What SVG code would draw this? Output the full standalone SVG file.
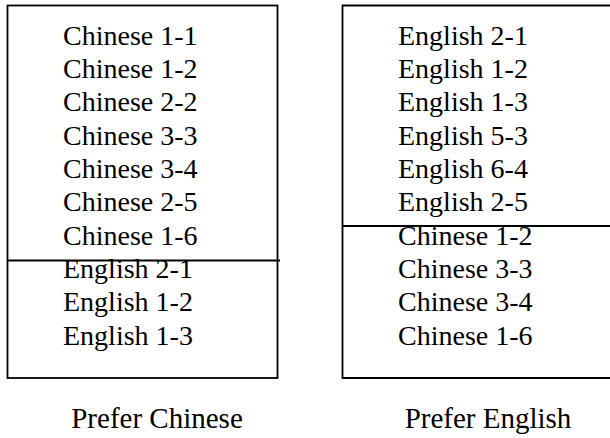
<svg xmlns="http://www.w3.org/2000/svg" width="610" height="438" viewBox="0 0 610 438">
  <style>
    .box { fill: none; stroke: #000; stroke-width: 1.8; }
    .rule { stroke: #000; stroke-width: 1.8; }
    .item { font-family: "Liberation Serif", "Times New Roman", serif; font-size: 28px; fill: #000; }
    .caption { font-family: "Liberation Serif", "Times New Roman", serif; font-size: 29px; fill: #000; }
  </style>
  <rect width="610" height="438" fill="#fff"/>

  <!-- Left column: Chinese preferred -->
  <g id="prefer-chinese">
    <rect class="box" x="7.5" y="5.5" width="270" height="372.5"/>
    <line class="rule" x1="7.5" y1="260.5" x2="280" y2="260.5"/>
    <text class="item" x="63" y="45">Chinese 1-1</text>
    <text class="item" x="63" y="78">Chinese 1-2</text>
    <text class="item" x="63" y="111">Chinese 2-2</text>
    <text class="item" x="63" y="145">Chinese 3-3</text>
    <text class="item" x="63" y="178">Chinese 3-4</text>
    <text class="item" x="63" y="211">Chinese 2-5</text>
    <text class="item" x="63" y="245">Chinese 1-6</text>
    <text class="item" x="63" y="278">English 2-1</text>
    <text class="item" x="63" y="311">English 1-2</text>
    <text class="item" x="63" y="345">English 1-3</text>
    <text class="caption" x="157" y="428" text-anchor="middle">Prefer Chinese</text>
  </g>

  <!-- Right column: English preferred -->
  <g id="prefer-english">
    <path class="box" d="M614,5.5 H342.5 V378 H614"/>
    <line class="rule" x1="342.5" y1="226" x2="614" y2="226"/>
    <text class="item" x="398" y="45">English 2-1</text>
    <text class="item" x="398" y="78">English 1-2</text>
    <text class="item" x="398" y="111">English 1-3</text>
    <text class="item" x="398" y="145">English 5-3</text>
    <text class="item" x="398" y="178">English 6-4</text>
    <text class="item" x="398" y="211">English 2-5</text>
    <text class="item" x="398" y="245">Chinese 1-2</text>
    <text class="item" x="398" y="278">Chinese 3-3</text>
    <text class="item" x="398" y="311">Chinese 3-4</text>
    <text class="item" x="398" y="345">Chinese 1-6</text>
    <text class="caption" x="488" y="428" text-anchor="middle">Prefer English</text>
  </g>
</svg>
